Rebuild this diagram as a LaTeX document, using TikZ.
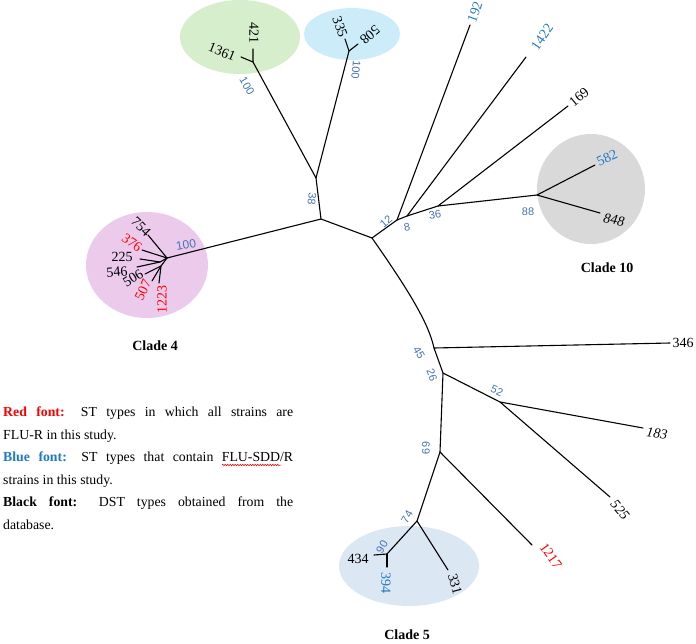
\documentclass[tikz,border=0pt]{standalone}
\usepackage{fontspec}
\setmainfont{Liberation Serif}
\newfontfamily\bsfont{Liberation Sans}
\usetikzlibrary{decorations.pathmorphing}
\definecolor{cgreen}{RGB}{214,238,204}
\definecolor{ccyan}{RGB}{204,236,250}
\definecolor{cpink}{RGB}{236,202,236}
\definecolor{cgray}{RGB}{217,217,217}
\definecolor{cfive}{RGB}{220,231,244}
\definecolor{leafblue}{RGB}{31,120,200}
\definecolor{bootblue}{RGB}{70,115,180}
\definecolor{fred}{RGB}{255,0,0}
\begin{document}
\begin{tikzpicture}[x=1pt,y=-1pt,
  br/.style={line width=1.1pt, line cap=round},
  leaf/.style={font=\fontsize{14}{16}\selectfont, inner sep=0pt},
  boot/.style={font=\bsfont\fontsize{11}{13}\selectfont, text=bootblue, inner sep=0pt},
  cl/.style={font=\bfseries\fontsize{14}{16}\selectfont, inner sep=0pt}]
\useasboundingbox (0,0) rectangle (696,643);
% clade backgrounds
\fill[cgreen] (240,37) ellipse [x radius=60pt, y radius=37pt];
\fill[ccyan] (352,34) ellipse [x radius=48pt, y radius=26pt];
\fill[cpink] (147,265) ellipse [x radius=61pt, y radius=53pt];
\fill[cgray] (591,189) ellipse [x radius=54pt, y radius=55pt];
\fill[cfive] (409,566) ellipse [x radius=70pt, y radius=40pt];
% tree coordinates
\coordinate (C) at (372,238);
\coordinate (A) at (321,219);
\coordinate (T) at (316,178);
\coordinate (G) at (253,62);
\coordinate (g421) at (253,49);
\coordinate (g1361) at (241,57);
\coordinate (B) at (349,51);
\coordinate (b335) at (345,39);
\coordinate (b508) at (358,44);
\coordinate (N4) at (167,258);
\coordinate (S1) at (160,262);
\coordinate (S2) at (161,266);
\coordinate (e754) at (148,235);
\coordinate (e376) at (142,250);
\coordinate (e225) at (140,259);
\coordinate (e546) at (137,267);
\coordinate (e506) at (145,274);
\coordinate (e507) at (152,281);
\coordinate (e1223) at (159,283);
\coordinate (R12) at (397,220);
\coordinate (R8) at (407,216);
\coordinate (R36) at (438,206);
\coordinate (R88) at (537,195);
\coordinate (e192) at (470,25);
\coordinate (e1422) at (526,57);
\coordinate (e169) at (568,106);
\coordinate (e582) at (595,165);
\coordinate (e848) at (600,213);
\coordinate (D45) at (434,348);
\coordinate (D26) at (443,373);
\coordinate (D52) at (500,402);
\coordinate (D69) at (440,452);
\coordinate (D74) at (417,521);
\coordinate (D90) at (387,554);
\coordinate (e346) at (670,343);
\coordinate (e183) at (643,428);
\coordinate (e525) at (610,497);
\coordinate (e1217) at (532,545);
\coordinate (e331) at (448,570);
\coordinate (e434) at (374,555);
\coordinate (e394) at (387,567);
% branches
\draw[br] (C) -- (A) -- (T) -- (G) -- (g421);
\draw[br] (G) -- (g1361);
\draw[br] (T) -- (B) -- (b335);
\draw[br] (B) -- (b508);
\draw[br] (A) -- (N4) -- (e754);
\draw[br] (N4) -- (e376);
\draw[br] (N4) -- (S1) -- (e225);
\draw[br] (S1) -- (e546);
\draw[br] (N4) -- (S2) -- (e506);
\draw[br] (S2) -- (e507);
\draw[br] (S2) -- (e1223);
\draw[br] (C) -- (R12) -- (e192);
\draw[br] (R12) -- (R8) -- (e1422);
\draw[br] (R8) -- (R36) -- (e169);
\draw[br] (R36) -- (R88) -- (e582);
\draw[br] (R88) -- (e848);
\draw[br] (C) .. controls (412,295) and (429,325) .. (D45) -- (D26) -- (D69) -- (D74) -- (D90) -- (e434);
\draw[br] (D90) -- (e394);
\draw[br] (D74) -- (e331);
\draw[br] (D69) -- (e1217);
\draw[br] (D26) -- (D52) -- (e183);
\draw[br] (D52) -- (e525);
\draw[br] (D45) -- (e346);
% leaf labels
\node[leaf, rotate=-90] (t421) at (254,33) {421};
\node[leaf, rotate=-22] (t1361) at (222,52) {1361};
\node[leaf, rotate=-70] (t335) at (340,27) {335};
\node[leaf, rotate=220] (t508) at (370,35) {508};
\node[leaf, rotate=-45] (t754) at (141,227) {754};
\node[leaf, rotate=-35, text=fred] (t376) at (132,243) {376};
\node[leaf] (t225) at (122,257) {225};
\node[leaf, rotate=5] (t546) at (117,272) {546};
\node[leaf, rotate=32] (t506) at (133,278) {506};
\node[leaf, rotate=65, text=fred] (t507) at (143,290) {507};
\node[leaf, rotate=90, text=fred] (t1223) at (162,299) {1223};
\node[leaf, rotate=70, text=leafblue] (t192) at (475,12) {192};
\node[leaf, rotate=55, text=leafblue] (t1422) at (542,37) {1422};
\node[leaf, rotate=40] (t169) at (579,97) {169};
\node[leaf, rotate=25, text=leafblue] (t582) at (607,158) {582};
\node[leaf, rotate=-10, font=\itshape\fontsize{14}{16}\selectfont] (t848) at (614,220) {848};
\node[leaf] (t346) at (683,343) {346};
\node[leaf, rotate=-8, font=\itshape\fontsize{14}{16}\selectfont] (t183) at (657,433) {183};
\node[leaf, rotate=-50, font=\itshape\fontsize{14}{16}\selectfont] (t525) at (620,510) {525};
\node[leaf, rotate=-55, text=fred] (t1217) at (551,556) {1217};
\node[leaf, rotate=-75] (t331) at (455,584) {331};
\node[leaf] (t434) at (358,559) {434};
\node[leaf, rotate=-90, text=leafblue] (t394) at (386,583) {394};
% bootstrap values
\node[boot, rotate=-60] (b1) at (247,86) {100};
\node[boot, rotate=-95] (b2) at (356,70) {100};
\node[boot, rotate=-95] (b3) at (312,199) {38};
\node[boot, rotate=10, font=\bsfont\fontsize{12}{14}\selectfont] (b4) at (186,245) {100};
\node[boot, rotate=40] (b5) at (386,222) {12};
\node[boot, rotate=10] (b6) at (407,227) {8};
\node[boot, rotate=10] (b7) at (435,215) {36};
\node[boot] (b8) at (528,212) {88};
\node[boot, rotate=-60] (b9) at (419,353) {45};
\node[boot, rotate=-70] (b10) at (432,375) {26};
\node[boot, rotate=-25] (b11) at (497,391) {52};
\node[boot, rotate=-90] (b12) at (426,448) {69};
\node[boot, rotate=60] (b13) at (407,517) {74};
\node[boot, rotate=60] (b14) at (382,547) {90};
% clade names
\node[cl] (c4) at (155,346) {Clade 4};
\node[cl] (c10) at (607,268) {Clade 10};
\node[cl] (c5) at (407,635) {Clade 5};
% legend
\node[anchor=north west, inner sep=0pt, text width=290pt, align=justify,
  font=\fontsize{13.8}{22.5}\selectfont] (legend) at (3,407) {%
\hyphenpenalty=10000
\textcolor{fred}{\textbf{Red font:}} ST types in which all strains are\linebreak FLU-R in this study.\par
\textcolor{leafblue}{\textbf{Blue font:}} ST types that contain FLU-SDD/R\linebreak strains in this study.\par
\textbf{Black font:} DST types obtained from the\linebreak database.\par};
\coordinate (w1) at (222,465);
\coordinate (w2) at (281,465);
\draw[fred, line width=0.5pt, decorate, decoration={snake, amplitude=0.8pt, segment length=2.5pt}] (w1) -- (w2);
\end{tikzpicture}
\end{document}
